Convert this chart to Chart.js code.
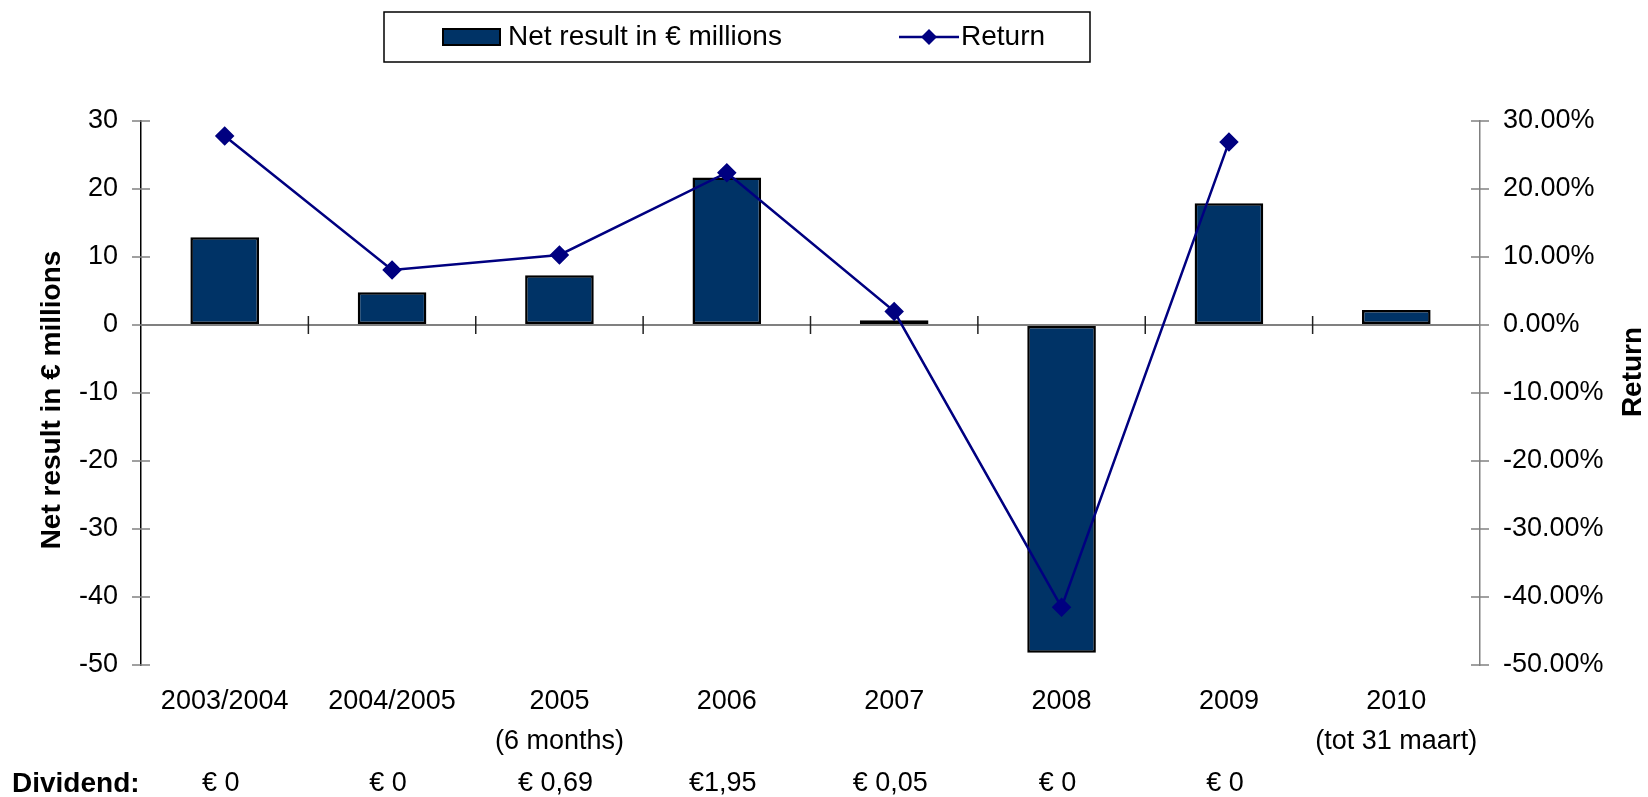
<!DOCTYPE html>
<html lang="en">
<head>
  <meta charset="UTF-8">
  <title>Net result and return</title>
  <style>
    body{
      margin: 0;
      background: #fff;
    }
    .canvas-con{
      width: 1648px;
      height: 797px;
    }
  </style>
</head>
<body>
  <div class="canvas-con">
    <canvas id="myChart" width="1648" height="797"></canvas>
  </div>

  <script src="https://cdn.jsdelivr.net/npm/chart.js"></script>
  <script>
  const categories = [
    '2003/2004', '2004/2005', ['2005', '(6 months)'], '2006',
    '2007', '2008', '2009', ['2010', '(tot 31 maart)']
  ]
  const netResult = [12.9, 4.8, 7.3, 21.7, 0.7, -48.2, 17.9, 2.2]
  const returns = [27.8, 8.1, 10.3, 22.4, 2.0, -41.5, 26.9, null]
  const dividends = ['€ 0', '€ 0', '€ 0,69', '€1,95', '€ 0,05', '€ 0', '€ 0', '']

  const FONT = '"Liberation Sans", Arial, sans-serif'
  const BAR_COLOR = '#003366'
  const LINE_COLOR = '#000080'
  const GREY = '#808080'

  // legend box, axis titles, dividend row and the crossing tick marks
  const extras = {
    id: 'extras',
    beforeDatasetsDraw: (chart) => {
      const ctx = chart.ctx
      const a = chart.chartArea
      const y0 = chart.scales.y.getPixelForValue(0)
      ctx.save()
      ctx.strokeStyle = '#222'
      ctx.lineWidth = 1.5
      // category boundary ticks on the zero line
      for (let i = 1; i < categories.length; i++) {
        const x = (chart.scales.x.getPixelForValue(i - 1) + chart.scales.x.getPixelForValue(i)) / 2
        ctx.beginPath()
        ctx.moveTo(x, y0 - 9)
        ctx.lineTo(x, y0 + 9)
        ctx.stroke()
      }
      // y axis tick crosses
      ctx.strokeStyle = GREY
      chart.scales.y.ticks.forEach(t => {
        const y = chart.scales.y.getPixelForValue(t.value)
        ctx.beginPath(); ctx.moveTo(a.left - 9, y); ctx.lineTo(a.left + 9, y); ctx.stroke()
      })
      chart.scales.y1.ticks.forEach(t => {
        const y = chart.scales.y1.getPixelForValue(t.value)
        ctx.beginPath(); ctx.moveTo(a.right - 9, y); ctx.lineTo(a.right + 9, y); ctx.stroke()
      })
      ctx.restore()
    },
    afterDraw: (chart) => {
      const ctx = chart.ctx
      ctx.save()
      ctx.fillStyle = '#000'
      ctx.textBaseline = 'middle'

      // legend
      ctx.strokeStyle = '#000'
      ctx.lineWidth = 1.5
      ctx.strokeRect(384, 12, 706, 50)
      ctx.fillStyle = BAR_COLOR
      ctx.fillRect(443, 29, 57, 16)
      ctx.lineWidth = 2
      ctx.strokeRect(443, 29, 57, 16)
      ctx.fillStyle = '#000'
      ctx.font = '28px ' + FONT
      ctx.textAlign = 'left'
      ctx.fillText('Net result in € millions', 508, 37)
      ctx.strokeStyle = LINE_COLOR
      ctx.lineWidth = 2.5
      ctx.beginPath(); ctx.moveTo(899, 37); ctx.lineTo(959, 37); ctx.stroke()
      ctx.fillStyle = LINE_COLOR
      ctx.beginPath()
      ctx.moveTo(929, 29); ctx.lineTo(937, 37); ctx.lineTo(929, 45); ctx.lineTo(921, 37)
      ctx.closePath(); ctx.fill()
      ctx.fillStyle = '#000'
      ctx.fillText('Return', 961, 37)

      // axis titles
      ctx.font = 'bold 28px ' + FONT
      ctx.textAlign = 'center'
      ctx.save()
      ctx.translate(52, 400)
      ctx.rotate(-Math.PI / 2)
      ctx.fillText('Net result in € millions', 0, 0)
      ctx.restore()
      ctx.save()
      ctx.translate(1633, 372)
      ctx.rotate(-Math.PI / 2)
      ctx.fillText('Return', 0, 0)
      ctx.restore()

      // dividend row
      ctx.textAlign = 'left'
      ctx.fillText('Dividend:', 12, 784)
      ctx.font = '27px ' + FONT
      ctx.textAlign = 'center'
      dividends.forEach((d, i) => {
        ctx.fillText(d, chart.scales.x.getPixelForValue(i) - 4, 784)
      })
      ctx.restore()
    }
  }

  let myChart = new Chart(document.getElementById('myChart'), {
    type: 'bar',
    data: {
      labels: categories,
      datasets: [
        {
          type: 'line',
          label: 'Return',
          data: returns,
          yAxisID: 'y1',
          borderColor: LINE_COLOR,
          backgroundColor: LINE_COLOR,
          borderWidth: 2.5,
          pointStyle: 'rectRot',
          pointRadius: 8,
          pointHoverRadius: 8,
          tension: 0,
          order: 0
        },
        {
          label: 'Net result in € millions',
          data: netResult,
          yAxisID: 'y',
          backgroundColor: BAR_COLOR,
          borderColor: '#000',
          borderWidth: 2.5,
          borderSkipped: false,
          barPercentage: 0.41,
          categoryPercentage: 1,
          order: 1
        }
      ]
    },
    plugins: [extras],
    options: {
      responsive: false,
      animation: false,
      layout: {padding: {top: 121, left: 0, right: 0, bottom: 0}},
      plugins: {
        legend: {display: false},
        tooltip: {enabled: false}
      },
      scales: {
        x: {
          grid: {display: false, drawTicks: false},
          border: {display: false},
          ticks: {
            color: '#000',
            padding: 17,
            maxRotation: 0,
            autoSkip: false,
            font: {family: FONT, size: 27, lineHeight: 1.48}
          },
          afterFit: (scale) => { scale.height = 132 }
        },
        y: {
          position: 'left',
          min: -50,
          max: 30,
          ticks: {
            stepSize: 10,
            color: '#000',
            padding: 23,
            font: {family: FONT, size: 27}
          },
          grid: {
            drawTicks: false,
            color: (c) => c.tick && c.tick.value === 0 ? GREY : 'rgba(0,0,0,0)',
            lineWidth: 2
          },
          border: {display: true, color: '#000', width: 1.5},
          afterFit: (scale) => { scale.width = 141 }
        },
        y1: {
          position: 'right',
          min: -50,
          max: 30,
          ticks: {
            stepSize: 10,
            color: '#000',
            padding: 23,
            font: {family: FONT, size: 27},
            callback: (v) => v.toFixed(2) + '%'
          },
          grid: {display: false, drawTicks: false},
          border: {display: true, color: GREY, width: 1.5},
          afterFit: (scale) => { scale.width = 168 }
        }
      }
    }
  })
  </script>
</body>
</html>
